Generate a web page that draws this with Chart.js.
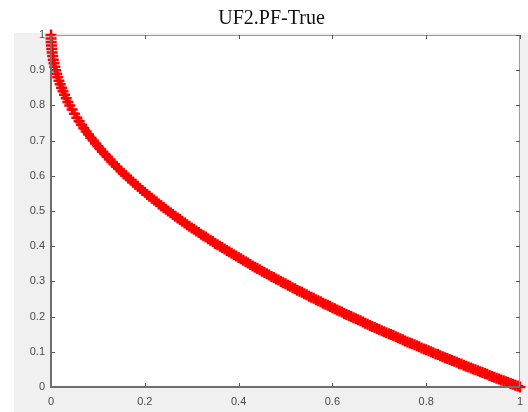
<!DOCTYPE html>
<html>
<head>
<meta charset="utf-8">
<script src="https://cdn.jsdelivr.net/npm/chart.js@4"></script>
<style>
  html, body { margin: 0; padding: 0; background: #fff; }
  #wrap { width: 528px; height: 412px; position: relative; }
</style>
</head>
<body>
<div id="wrap"><canvas id="c" width="528" height="412"></canvas></div>
<script>
// True Pareto front of UF2 (f1 vs f2), whole steps
const f1 = [0, 0.0001, 0.0004, 0.0009, 0.0016, 0.0025, 0.0036, 0.0049, 0.0064, 0.0081,
  0.01, 0.0121, 0.0144, 0.0169, 0.0196, 0.0225, 0.0256, 0.0289, 0.0324, 0.0361,
  0.04, 0.045, 0.05, 0.055, 0.06, 0.065, 0.07, 0.075, 0.08, 0.09,
  0.10, 0.11, 0.12, 0.13, 0.14, 0.15, 0.16, 0.17, 0.18, 0.19,
  0.20, 0.21, 0.22, 0.23, 0.24, 0.25, 0.26, 0.27, 0.28, 0.29,
  0.30, 0.31, 0.32, 0.33, 0.34, 0.35, 0.36, 0.37, 0.38, 0.39,
  0.40, 0.41, 0.42, 0.43, 0.44, 0.45, 0.46, 0.47, 0.48, 0.49,
  0.50, 0.51, 0.52, 0.53, 0.54, 0.55, 0.56, 0.57, 0.58, 0.59,
  0.60, 0.61, 0.62, 0.63, 0.64, 0.65, 0.66, 0.67, 0.68, 0.69,
  0.70, 0.71, 0.72, 0.73, 0.74, 0.75, 0.76, 0.77, 0.78, 0.79,
  0.80, 0.81, 0.82, 0.83, 0.84, 0.85, 0.86, 0.87, 0.88, 0.89,
  0.90, 0.91, 0.92, 0.93, 0.94, 0.95, 0.96, 0.97, 0.98, 0.99, 1.00];
const f2 = [1, 0.99, 0.98, 0.97, 0.96, 0.95, 0.94, 0.93, 0.92, 0.91,
  0.90, 0.89, 0.88, 0.87, 0.86, 0.85, 0.84, 0.83, 0.82, 0.81,
  0.80, 0.788, 0.776, 0.765, 0.755, 0.745, 0.735, 0.726, 0.717, 0.700,
  0.684, 0.668, 0.654, 0.639, 0.626, 0.613, 0.600, 0.588, 0.576, 0.564,
  0.553, 0.542, 0.531, 0.520, 0.510, 0.500, 0.490, 0.480, 0.471, 0.461,
  0.452, 0.443, 0.434, 0.426, 0.417, 0.408, 0.400, 0.392, 0.384, 0.376,
  0.368, 0.360, 0.352, 0.344, 0.337, 0.329, 0.322, 0.314, 0.307, 0.300,
  0.293, 0.286, 0.279, 0.272, 0.265, 0.258, 0.252, 0.245, 0.238, 0.232,
  0.225, 0.219, 0.213, 0.206, 0.200, 0.194, 0.188, 0.181, 0.175, 0.169,
  0.163, 0.157, 0.151, 0.146, 0.140, 0.134, 0.128, 0.123, 0.117, 0.111,
  0.106, 0.100, 0.094, 0.089, 0.083, 0.078, 0.073, 0.067, 0.062, 0.057,
  0.051, 0.046, 0.041, 0.036, 0.030, 0.025, 0.020, 0.015, 0.010, 0.005, 0];
// front sampled at the half steps in between
const f1Half = [0.085, 0.095, 0.105, 0.115, 0.125, 0.135, 0.145, 0.155, 0.165, 0.175,
  0.185, 0.195, 0.205, 0.215, 0.225, 0.235, 0.245, 0.255, 0.265, 0.275,
  0.285, 0.295, 0.305, 0.315, 0.325, 0.335, 0.345, 0.355, 0.365, 0.375,
  0.385, 0.395, 0.405, 0.415, 0.425, 0.435, 0.445, 0.455, 0.465, 0.475,
  0.485, 0.495, 0.505, 0.515, 0.525, 0.535, 0.545, 0.555, 0.565, 0.575,
  0.585, 0.595, 0.605, 0.615, 0.625, 0.635, 0.645, 0.655, 0.665, 0.675,
  0.685, 0.695, 0.705, 0.715, 0.725, 0.735, 0.745, 0.755, 0.765, 0.775,
  0.785, 0.795, 0.805, 0.815, 0.825, 0.835, 0.845, 0.855, 0.865, 0.875,
  0.885, 0.895, 0.905, 0.915, 0.925, 0.935, 0.945, 0.955, 0.965, 0.975,
  0.985, 0.995];
const f2Half = [0.708, 0.692, 0.676, 0.661, 0.646, 0.633, 0.619, 0.606, 0.594, 0.582,
  0.570, 0.558, 0.547, 0.536, 0.526, 0.515, 0.505, 0.495, 0.485, 0.476,
  0.466, 0.457, 0.448, 0.439, 0.430, 0.421, 0.413, 0.404, 0.396, 0.388,
  0.380, 0.372, 0.364, 0.356, 0.348, 0.340, 0.333, 0.325, 0.318, 0.311,
  0.304, 0.296, 0.289, 0.282, 0.275, 0.269, 0.262, 0.255, 0.248, 0.242,
  0.235, 0.229, 0.222, 0.216, 0.209, 0.203, 0.197, 0.191, 0.185, 0.178,
  0.172, 0.166, 0.160, 0.154, 0.149, 0.143, 0.137, 0.131, 0.125, 0.120,
  0.114, 0.108, 0.103, 0.097, 0.092, 0.086, 0.081, 0.075, 0.070, 0.065,
  0.059, 0.054, 0.049, 0.043, 0.038, 0.033, 0.028, 0.023, 0.018, 0.013,
  0.008, 0.003];
const xTicks = [0, 0.2, 0.4, 0.6, 0.8, 1];
const yTicks = [0, 0.1, 0.2, 0.3, 0.4, 0.5, 0.6, 0.7, 0.8, 0.9, 1];
const titleText = 'UF2.PF-True';

const points = f1.map((x, i) => ({ x: x, y: f2[i] }))
  .concat(f1Half.map((x, i) => ({ x: x, y: f2Half[i] })))
  .sort((a, b) => a.x - b.x);

// figure frame: grey surround, title, box and inward ticks
const framePlugin = {
  id: 'frame',
  beforeDraw(chart) {
    const ctx = chart.ctx, a = chart.chartArea;
    ctx.save();
    ctx.fillStyle = '#f0f0f0';
    ctx.fillRect(14, 33, chart.width - 14, chart.height - 33);
    ctx.fillStyle = '#ffffff';
    ctx.fillRect(a.left, a.top, a.right - a.left, a.bottom - a.top);
    ctx.fillStyle = '#111111';
    ctx.font = '20px "Liberation Serif", "Times New Roman", serif';
    ctx.textAlign = 'center';
    ctx.textBaseline = 'alphabetic';
    ctx.fillText(titleText, 271.5, 24);
    ctx.restore();
  },
  afterDatasetsDraw(chart) {
    const ctx = chart.ctx, a = chart.chartArea;
    const xs = chart.scales.x, ys = chart.scales.y;
    ctx.save();
    // top and right box edges
    ctx.strokeStyle = '#9a9a9a';
    ctx.lineWidth = 1;
    ctx.beginPath();
    ctx.moveTo(a.left, a.top + 0.5); ctx.lineTo(a.right, a.top + 0.5);
    ctx.moveTo(a.right - 0.5, a.top); ctx.lineTo(a.right - 0.5, a.bottom);
    ctx.stroke();
    // inward ticks
    ctx.strokeStyle = '#555';
    ctx.beginPath();
    xTicks.forEach(v => {
      const px = Math.round(xs.getPixelForValue(v)) + 0.5;
      ctx.moveTo(px, a.bottom); ctx.lineTo(px, a.bottom - 4);
      ctx.moveTo(px, a.top); ctx.lineTo(px, a.top + 4);
    });
    yTicks.forEach(v => {
      const py = Math.round(ys.getPixelForValue(v)) + 0.5;
      ctx.moveTo(a.left, py); ctx.lineTo(a.left + 4, py);
      ctx.moveTo(a.right, py); ctx.lineTo(a.right - 4, py);
    });
    ctx.stroke();
    // left and bottom axis lines
    ctx.strokeStyle = '#6e6e6e';
    ctx.lineWidth = 2;
    ctx.beginPath();
    ctx.moveTo(a.left, a.top); ctx.lineTo(a.left, a.bottom);
    ctx.lineTo(a.right, a.bottom);
    ctx.stroke();
    ctx.restore();
  }
};

const tickFont = { family: '"Liberation Sans", Arial, sans-serif', size: 11 };

new Chart(document.getElementById('c'), {
  type: 'scatter',
  data: {
    datasets: [{
      data: points,
      pointStyle: 'cross',
      pointRadius: 5.5,
      pointBorderWidth: 2.5,
      borderColor: '#ff0000',
      backgroundColor: '#ff0000',
      clip: false
    }]
  },
  options: {
    responsive: false,
    animation: false,
    events: [],
    layout: { padding: { left: 14, top: 35, right: 1, bottom: 0 } },
    plugins: { legend: { display: false }, tooltip: { enabled: false } },
    scales: {
      x: {
        type: 'linear', min: 0, max: 1,
        grid: { display: false, drawTicks: false },
        border: { display: false },
        afterBuildTicks: s => { s.ticks = xTicks.map(v => ({ value: v })); },
        afterFit: s => { s.height = 25; s.paddingLeft = 0; s.paddingRight = 0; },
        ticks: { padding: 8, color: '#4a4a4a', font: tickFont, callback: v => String(v) }
      },
      y: {
        type: 'linear', min: 0, max: 1,
        grid: { display: false, drawTicks: false },
        border: { display: false },
        afterBuildTicks: s => { s.ticks = yTicks.map(v => ({ value: v })); },
        afterFit: s => { s.width = 37; s.paddingTop = 0; s.paddingBottom = 0; },
        ticks: { padding: 6, color: '#4a4a4a', font: tickFont, callback: v => String(v) }
      }
    }
  },
  plugins: [framePlugin]
});
</script>
</body>
</html>
